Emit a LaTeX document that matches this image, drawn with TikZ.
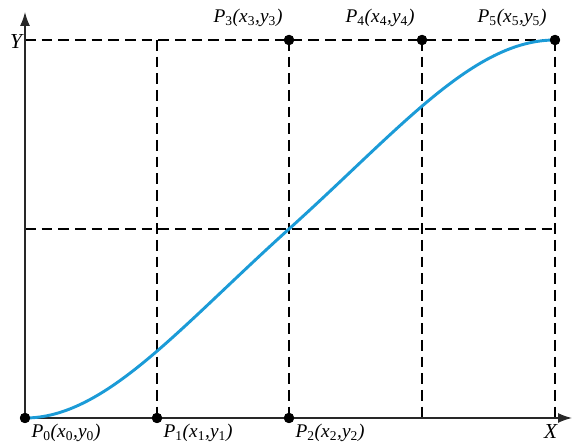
\documentclass[tikz,border=0pt]{standalone}
\usepackage{fontspec}
\setmainfont{Liberation Serif}
\usetikzlibrary{arrows.meta}
\definecolor{curveblue}{RGB}{27,155,215}
\definecolor{axisgray}{RGB}{40,40,40}
\newcommand{\plabel}[1]{\textit{P}\textsubscript{#1}\textit{(x}\textsubscript{#1}\textit{,y}\textsubscript{#1}\textit{)}}
\tikzset{
  grid line/.style={draw=black, line width=1.4pt, dash pattern=on 8pt off 4.5pt},
  axis line/.style={draw=axisgray, line width=1.1pt, -{Latex[length=10.5pt,width=7.5pt]}},
  ctrl pt/.style={circle, fill=black, inner sep=0pt, minimum size=7.5pt},
  lbl/.style={font=\fontsize{14.5}{17}\selectfont, inner sep=0pt},
  axlbl/.style={font=\fontsize{16}{19}\selectfont, inner sep=0pt},
  profile/.style={draw=curveblue, line width=2.2pt}
}
\begin{document}
\begin{tikzpicture}[x=0.75pt, y=-0.75pt]
\useasboundingbox (0,0) rectangle (572,448);
% reference coordinates
\coordinate (p0c) at (25,418);
\coordinate (ytop) at (25,40);
\coordinate (yend) at (25,12);
\coordinate (xend) at (572,418);
\coordinate (ml) at (25,229);
\coordinate (mr) at (555,229);
\coordinate (v1top) at (157,40);
\coordinate (v4bot) at (422,418);
\coordinate (v5bot) at (555,418);
\coordinate (ctr) at (289,229);
% control points
\node[ctrl pt] (p0) at (25,418) {};
\node[ctrl pt] (p1) at (157,418) {};
\node[ctrl pt] (p2) at (289,418) {};
\node[ctrl pt] (p3) at (289,40) {};
\node[ctrl pt] (p4) at (422,40) {};
\node[ctrl pt] (p5) at (555,40) {};
% dashed grid
\draw[grid line] (ytop) -- (p5.center);
\draw[grid line] (ml) -- (mr);
\draw[grid line] (v1top) -- (p1.center);
\draw[grid line] (p3.center) -- (p2.center);
\draw[grid line] (p4.center) -- (v4bot);
\draw[grid line] (p5.center) -- (v5bot);
% axes
\draw[axis line] (p0c) -- (xend);
\draw[axis line] (p0c) -- (yend);
% curve
\draw[profile] (p0c) .. controls (105,418) and (179,328) .. (ctr)
  .. controls (399,130) and (473,40) .. (p5.center);
% dots on top
\foreach \x/\y in {25/418, 157/418, 289/418, 289/40, 422/40, 555/40}
  \fill (\x,\y) circle (3.9pt);
% labels
\node[lbl] (l0) at (66,433) {\plabel{0}};
\node[lbl] (l1) at (198,433) {\plabel{1}};
\node[lbl] (l2) at (330,433) {\plabel{2}};
\node[lbl] (l3) at (248,18) {\plabel{3}};
\node[lbl] (l4) at (380,18) {\plabel{4}};
\node[lbl] (l5) at (512,18) {\plabel{5}};
\node[axlbl] (ly) at (17,42) {\textit{Y}};
\node[axlbl] (lx) at (551,432) {\textit{X}};
\end{tikzpicture}
\end{document}
